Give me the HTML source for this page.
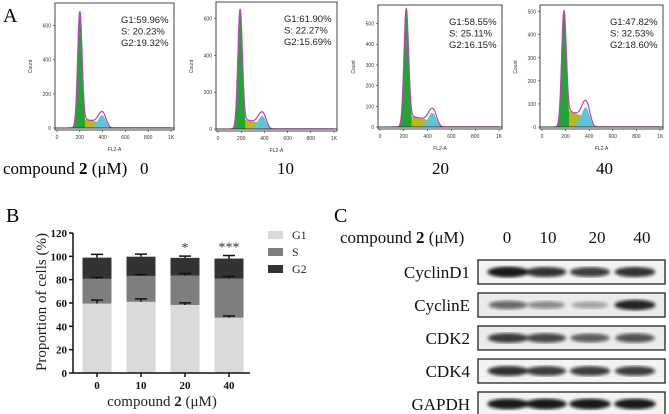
<!DOCTYPE html>
<html><head><meta charset="utf-8"><style>
body{margin:0;background:#fff;}
svg{display:block;font-family:"Liberation Serif",serif;}
.sans{font-family:"Liberation Sans",sans-serif;}
</style></head><body>
<svg id="fig" width="669" height="414" viewBox="0 0 669 414" xmlns="http://www.w3.org/2000/svg">
<text x="3" y="22" font-size="20">A</text>
<g id="hists"></g>
<text x="3" y="174" font-size="17">compound <tspan font-weight="bold">2</tspan> (μM)</text>
<text x="140" y="174" font-size="17">0</text>
<text x="277" y="174" font-size="17">10</text>
<text x="432" y="174" font-size="17">20</text>
<text x="596" y="174" font-size="17">40</text>

<text x="6" y="222" font-size="20">B</text>
<g id="barchart"></g>

<text x="334" y="222" font-size="20">C</text>
<g id="blots"></g>
</svg>
<script>
const NS="http://www.w3.org/2000/svg";
function mk(tag,attrs,parent){const e=document.createElementNS(NS,tag);for(const k in attrs)e.setAttribute(k,attrs[k]);parent.appendChild(e);return e;}

/* ---------- Panel A histogram data ---------- */
const histG1Pos=[200,190,220,185];
const histG1Peak=[680,650,570,500];
const histG2Pos=[395,380,440,370];
const histG2Peak=[65,62,60,72];
const histSLevel=[55,55,55,75];
const histG1Text=["G1:59.96%","G1:61.90%","G1:58.55%","G1:47.82%"];
const histSText=["S:  20.23%","S:  22.27%","S:  25.11%","S:  32.53%"];
const histG2Text=["G2:19.32%","G2:15.69%","G2:16.15%","G2:18.60%"];
const histYTicks=[[0,200,400,600],[0,200,400,600],[0,100,200,300,400,500],[0,100,200,300,400,500]];
const histYMax=[720,680,580,520];
const frames=[{l:55,r:174,t:3,b:130},{l:216,r:337,t:2,b:131},{l:378,r:502,t:5,b:129},{l:540,r:663,t:5,b:129}];

const hg=document.getElementById('hists');
frames.forEach((f,i)=>{
  const g=mk('g',{},hg);
  
  
  const base=f.b-2;
  const xs=v=>f.l+2+(v/1000)*(f.r-f.l-5);
  const ys=c=>base-(c/histYMax[i])*(base-f.t-2);
  const gauss=(v,m,s,h)=>h*Math.exp(-0.5*((v-m)/s)**2);
  const s1=19,s2=32;
  const g1=v=>gauss(v,histG1Pos[i],s1,histG1Peak[i]);
  const g2=v=>gauss(v,histG2Pos[i],s2,histG2Peak[i]);
  const sp=v=>{const a=histG1Pos[i]+10,b=histG2Pos[i]+70;if(v<a-10||v>b)return 0;const t=(v-a)/(b-a);return histSLevel[i]*(1-0.6*t)*Math.min(1,Math.max(0,(v-a+10)/25))*Math.min(1,(b-v)/50);};
  let green="",yellow="",cyan="",tot="";
  for(let v=100;v<=1000;v+=2){
    tot+=(v===100?"M":"L")+xs(v).toFixed(1)+","+ys(g1(v)+sp(v)+g2(v)+0.5).toFixed(1);
  }
  green="M"+xs(130)+","+base;for(let v=130;v<=histG1Pos[i]+45;v+=2)green+="L"+xs(v).toFixed(1)+","+ys(g1(v)+sp(v)*0.4).toFixed(1);green+="L"+xs(histG1Pos[i]+45)+","+base+"Z";
  yellow="M"+xs(histG1Pos[i]+20)+","+base;for(let v=histG1Pos[i]+20;v<=histG2Pos[i]+70;v+=2)yellow+="L"+xs(v).toFixed(1)+","+ys(sp(v)+(v<histG1Pos[i]+45?g1(v):0)).toFixed(1);yellow+="L"+xs(histG2Pos[i]+70)+","+base+"Z";
  cyan="M"+xs(histG2Pos[i]-80)+","+base;for(let v=histG2Pos[i]-80;v<=histG2Pos[i]+80;v+=2)cyan+="L"+xs(v).toFixed(1)+","+ys(g2(v)+sp(v)*0.3).toFixed(1);cyan+="Z";
  const fr=mk('rect',{x:f.l,y:f.t,width:f.r-f.l,height:f.b-f.t,fill:'#fff',stroke:'#444','stroke-width':1},g);
  
  mk('path',{d:yellow,fill:'#b8b820'},g);
  mk('path',{d:green,fill:'#22a535'},g);
  mk('path',{d:cyan,fill:'#5fc4d6'},g);
  mk('path',{d:tot,fill:'none',stroke:'#c040c0','stroke-width':1.2},g);
  mk('line',{x1:f.l,y1:base,x2:f.r,y2:base,stroke:'#333','stroke-width':1},g);
  histYTicks[i].forEach(t=>{mk('line',{x1:f.l-2,y1:ys(t),x2:f.l,y2:ys(t),stroke:'#333','stroke-width':0.6},g);
    const tx=mk('text',{x:f.l-4,y:ys(t)+2,'font-size':5,'text-anchor':'end',class:'sans',fill:'#333'},g);tx.textContent=t;});
  [0,200,400,600,800,1000].forEach(t=>{mk('line',{x1:xs(t),y1:f.b,x2:xs(t),y2:f.b+2,stroke:'#333','stroke-width':0.6},g);
    const tx=mk('text',{x:xs(t),y:f.b+9,'font-size':5,'text-anchor':'middle',class:'sans',fill:'#333'},g);tx.textContent=t===1000?'1K':t;});
  const xl=mk('text',{x:(f.l+f.r)/2,y:f.b+21,'font-size':5,'text-anchor':'middle',class:'sans',fill:'#333'},g);xl.textContent='FL2-A';
  
  const yl=mk('text',{x:0,y:0,'font-size':5,'text-anchor':'middle',class:'sans',fill:'#333',transform:`translate(${f.l-23},${(f.t+f.b)/2}) rotate(-90)`},g);yl.textContent='Count';
  
  const tx0=f.r-53;
  [histG1Text[i],histSText[i],histG2Text[i]].forEach((s,k)=>{const t=mk('text',{x:tx0,y:f.t+20+k*11.5,'font-size':9.5,class:'sans',fill:'#222','xml:space':'preserve'},g);t.textContent=s;
    });
});

/* ---------- Panel B bar chart data ---------- */
const barCats=["0","10","20","40"];
const barG1=[59.5,61,58.3,47.4];
const barS=[21.2,22.2,25.2,33.5];
const barG2=[18.2,16.5,15.2,17.2];
const errG1=[3,2.5,1.8,1.5];
const errS=[1.2,1.2,1.8,1.8];
const errG2=[2.8,2.2,1.5,2.6];
const barSig=["","","*","***"];
const yTicksB=[0,20,40,60,80,100,120];

const bc=document.getElementById('barchart');
const X0=73,Y0=373,pxPer=140/120,xEnd=250;
const yB=v=>Y0-v*pxPer;
const xB=i=>97+i*44;
const bw=29;
barCats.forEach((c,i)=>{
  const stacks=[[barG1[i],'#d9dbda',errG1[i]],[barS[i],'#7e7e7e',errS[i]],[barG2[i],'#333333',errG2[i]]];
  let acc=0;
  stacks.forEach(([v,col,e],k)=>{
    const r=mk('rect',{x:xB(i)-bw/2,y:yB(acc+v),width:bw,height:v*pxPer,fill:col},bc);
    
    
    acc+=v;
  });
  acc=0;
  stacks.forEach(([v,col,e])=>{acc+=v;
    mk('line',{x1:xB(i),y1:yB(acc),x2:xB(i),y2:yB(acc+e),stroke:'#111','stroke-width':1.5},bc);
    mk('line',{x1:xB(i)-6,y1:yB(acc+e),x2:xB(i)+6,y2:yB(acc+e),stroke:'#111','stroke-width':1.5},bc);
  });
  if(barSig[i]){const t=mk('text',{x:xB(i),y:yB(acc+errG2[i])-4,'font-size':14,'text-anchor':'middle',fill:'#333'},bc);t.textContent=barSig[i];
    }
  mk('line',{x1:xB(i),y1:Y0,x2:xB(i),y2:Y0+4,stroke:'#111','stroke-width':1.5},bc);
  const t=mk('text',{x:xB(i),y:Y0+16,'font-size':11,'font-weight':'bold','text-anchor':'middle',fill:'#111'},bc);t.textContent=c;
  
});
mk('line',{x1:X0,y1:yB(120),x2:X0,y2:Y0,stroke:'#111','stroke-width':1.5},bc);
mk('line',{x1:X0,y1:Y0,x2:xEnd,y2:Y0,stroke:'#111','stroke-width':1.5},bc);
yTicksB.forEach(v=>{mk('line',{x1:X0-4,y1:yB(v),x2:X0,y2:yB(v),stroke:'#111','stroke-width':1.5},bc);
  const t=mk('text',{x:X0-6,y:yB(v)+4,'font-size':11,'font-weight':'bold','text-anchor':'end',fill:'#111'},bc);t.textContent=v;
  });
{const t=mk('text',{x:0,y:0,'font-size':15,'text-anchor':'middle',fill:'#222',transform:`translate(46,302) rotate(-90)`},bc);t.textContent='Proportion of cells (%)';
 }
{const t=mk('text',{x:162,y:406,'font-size':15,'text-anchor':'middle',fill:'#222'},bc);t.innerHTML='compound <tspan font-weight="bold">2</tspan> (μM)';
 }
[['G1','#d9dbda'],['S','#7e7e7e'],['G2','#333333']].forEach(([n,c],k)=>{
  const g=mk('g',{},bc);
  mk('rect',{x:268,y:231+k*17,width:15,height:8,fill:c},g);
  const t=mk('text',{x:292,y:239+k*17,'font-size':12,fill:'#222'},g);t.textContent=n;});

/* ---------- Panel C western blots ---------- */
const blotLabels=["CyclinD1","CyclinE","CDK2","CDK4","GAPDH"];
const laneLabels=["0","10","20","40"];
const bandIntensity=[[0.95,0.85,0.8,0.85],[0.6,0.45,0.35,0.9],[0.8,0.75,0.65,0.7],[0.85,0.8,0.8,0.8],[0.95,0.95,0.95,0.95]];
const bl=document.getElementById('blots');
{const t=mk('text',{x:340,y:243,'font-size':17,fill:'#111'},bl);t.innerHTML='compound <tspan font-weight="bold">2</tspan> (μM)';
 }
const laneX=[507,548,597,642];
laneLabels.forEach((l,i)=>{const t=mk('text',{x:laneX[i],y:243,'font-size':17,'text-anchor':'middle',fill:'#111'},bl);t.textContent=l;
  });
const bandX=[508,546,590,635];
const defs=mk('defs',{},bl);
const fl=mk('filter',{id:'blur'},defs);mk('feGaussianBlur',{stdDeviation:1.6},fl);
blotLabels.forEach((n,r)=>{
  const y=260+r*33,h=24;
  const g=mk('g',{},bl);
  mk('rect',{x:478,y:y,width:187,height:h,fill:n==='CyclinE'||n==='CDK2'?'#ebebeb':'#f3f3f3',stroke:'#222','stroke-width':1.3},g);
  bandX.forEach((bx,i)=>{const a=bandIntensity[r][i];
    mk('ellipse',{cx:bx,cy:y+h/2,rx:17+4*a,ry:2.5+3*a,fill:'#111','fill-opacity':a,filter:'url(#blur)'},g);});
  const t=mk('text',{x:470,y:y+h/2+6,'font-size':17,'text-anchor':'end',fill:'#111'},bl);t.textContent=n;
  
});
</script>
</body></html>
